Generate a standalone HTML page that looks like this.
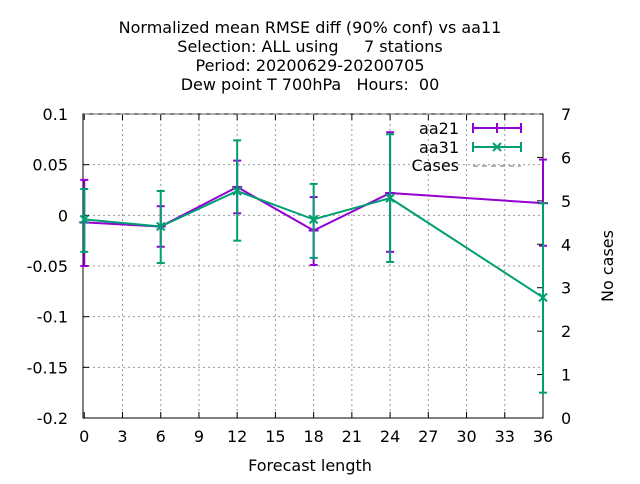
<!DOCTYPE html>
<html><head><meta charset="utf-8"><style>
body{margin:0;background:#fff;font-family:"DejaVu Sans",sans-serif}
svg text{font-family:"DejaVu Sans",sans-serif;font-size:16px;fill:#000}
</style></head><body>
<svg id="c" width="640" height="480" viewBox="0 0 640 480">
<g>
<text x="310" y="33" text-anchor="middle">Normalized mean RMSE diff (90% conf) vs aa11</text>
<text x="310" y="52" text-anchor="middle" xml:space="preserve">Selection: ALL using     7 stations</text>
<text x="310" y="71" text-anchor="middle">Period: 20200629-20200705</text>
<text x="310" y="90" text-anchor="middle" xml:space="preserve">Dew point T 700hPa   Hours:  00</text>
</g>
<g id="grid"></g><g id="axes"></g><g id="series"></g>
<text x="310" y="471" text-anchor="middle">Forecast length</text>
<text transform="translate(613,266) rotate(-90)" text-anchor="middle">No cases</text>
<g>
<text x="459" y="134" text-anchor="end">aa21</text>
<text x="459" y="153" text-anchor="end">aa31</text>
<text x="459" y="171" text-anchor="end">Cases</text>
<line x1="473" y1="128" x2="521" y2="128" stroke="#9400d3" stroke-width="2"/><line x1="473" y1="123" x2="473" y2="133" stroke="#9400d3" stroke-width="2"/><line x1="521" y1="123" x2="521" y2="133" stroke="#9400d3" stroke-width="2"/><line x1="497" y1="123" x2="497" y2="133" stroke="#9400d3" stroke-width="2"/>
<line x1="473" y1="147" x2="521" y2="147" stroke="#009e73" stroke-width="2"/><line x1="473" y1="142" x2="473" y2="152" stroke="#009e73" stroke-width="2"/><line x1="521" y1="142" x2="521" y2="152" stroke="#009e73" stroke-width="2"/><path d="M493,143 l8,8 M501,143 l-8,8" stroke="#009e73" stroke-width="2"/>
<line x1="473" y1="166" x2="521" y2="166" stroke="#999" stroke-width="1.5" stroke-dasharray="5,4"/>
</g>
</svg>
<script>
const hours=[0,6,12,18,24,36];
const aa21=[-0.007,-0.011,0.028,-0.015,0.022,0.012];
const aa21Lo=[-0.050,-0.031,0.002,-0.049,-0.036,-0.030];
const aa21Hi=[0.035,0.009,0.054,0.018,0.082,0.055];
const aa31=[-0.004,-0.011,0.024,-0.004,0.017,-0.081];
const aa31Lo=[-0.036,-0.047,-0.025,-0.042,-0.046,-0.175];
const aa31Hi=[0.026,0.024,0.074,0.031,0.080,0.012];
const cases=[7,7,7,7,7,7];
const xTicks=[0,3,6,9,12,15,18,21,24,27,30,33,36];
const yTicks=[-0.2,-0.15,-0.1,-0.05,0,0.05,0.1];
const y2Ticks=[0,1,2,3,4,5,6,7];
const L=83,R=543,T=114,B=418,XMIN=-0.1,XMAX=36,YMIN=-0.2,YMAX=0.1;
const X=v=>L+(v-XMIN)/(XMAX-XMIN)*(R-L);
const Y=v=>B-(v-YMIN)/(YMAX-YMIN)*(B-T);
const Y2=v=>B-v/7*(B-T);
const NS='http://www.w3.org/2000/svg';
function mk(p,t,a){const e=document.createElementNS(NS,t);for(const k in a)e.setAttribute(k,a[k]);p.appendChild(e);return e;}
const g=document.getElementById('grid'),ax=document.getElementById('axes'),s=document.getElementById('series');
xTicks.forEach(v=>{const x=X(v);
 if(v>0&&v<36){const l=mk(g,'line',{x1:x,x2:x,y1:T,y2:B,stroke:'#999','stroke-dasharray':'2,3'});
 
 }
 mk(ax,'line',{x1:x,x2:x,y1:B,y2:B-6,stroke:'#000'});mk(ax,'line',{x1:x,x2:x,y1:T,y2:T+6,stroke:'#000'});
 const t=mk(ax,'text',{x:x,y:B+24,'text-anchor':'middle'});t.textContent=v;
 
 });
yTicks.forEach(v=>{const y=Y(v);
 if(v>YMIN&&v<YMAX){const l=mk(g,'line',{x1:L,x2:R,y1:y,y2:y,stroke:'#999','stroke-dasharray':'2,3'});
 
 }
 mk(ax,'line',{x1:L,x2:L+6,y1:y,y2:y,stroke:'#000'});
 const t=mk(ax,'text',{x:L-15,y:y+6,'text-anchor':'end'});t.textContent=v;
 
 });
y2Ticks.forEach(v=>{const y=Y2(v);
 mk(ax,'line',{x1:R,x2:R-6,y1:y,y2:y,stroke:'#000'});
 const t=mk(ax,'text',{x:R+18,y:y+6});t.textContent=v;
 
 });
const fr=mk(ax,'rect',{x:L,y:T,width:R-L,height:B-T,fill:'none',stroke:'#000'});


const cl=mk(s,'polyline',{points:hours.map((h,i)=>X(h)+','+Y2(cases[i])).join(' '),fill:'none',stroke:'#999','stroke-width':1.5,'stroke-dasharray':'5,4'});


function series(vals,lo,hi,col,name,cross){
 const gr=mk(s,'g',{});
 
 
 mk(gr,'polyline',{points:hours.map((h,i)=>X(h)+','+Y(vals[i])).join(' '),fill:'none',stroke:col,'stroke-width':2});
 hours.forEach((h,i)=>{const x=X(h);
  mk(gr,'line',{x1:x,x2:x,y1:Y(lo[i]),y2:Y(hi[i]),stroke:col,'stroke-width':2});
  mk(gr,'line',{x1:x-4,x2:x+4,y1:Y(lo[i]),y2:Y(lo[i]),stroke:col,'stroke-width':2});
  mk(gr,'line',{x1:x-4,x2:x+4,y1:Y(hi[i]),y2:Y(hi[i]),stroke:col,'stroke-width':2});
  const y=Y(vals[i]);
  if(cross)mk(gr,'path',{d:`M${x-4},${y-4}l8,8M${x+4},${y-4}l-8,8`,stroke:col,'stroke-width':2});
  else mk(gr,'line',{x1:x-5,x2:x+5,y1:y,y2:y,stroke:col,'stroke-width':2});
 });
}
series(aa21,aa21Lo,aa21Hi,'#9400d3','aa21',false);
series(aa31,aa31Lo,aa31Hi,'#009e73','aa31',true);
</script>
</body></html>
